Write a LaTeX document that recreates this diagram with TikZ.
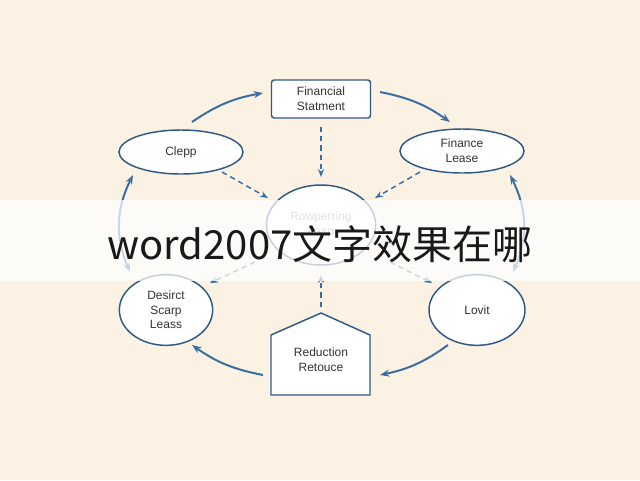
\documentclass[tikz,border=0pt]{standalone}
\usepackage{fontspec}
\setmainfont{Liberation Sans}
\newfontfamily\cjk{Noto Sans CJK SC}
\usetikzlibrary{shapes.geometric,arrows.meta}
\definecolor{bg}{HTML}{FBF2E4}
\definecolor{ln}{HTML}{2E5A86}
\definecolor{ar}{HTML}{3A6EA5}
\begin{document}
\begin{tikzpicture}[x=0.75pt,y=-0.75pt,
  shp/.style={draw=ln,line width=1.1pt,fill=white,align=center,font=\small,text=black!80,inner sep=0pt},
  sol/.style={-{Stealth[length=7pt]},ar,line width=1.5pt},
  dsh/.style={-{Stealth[length=6pt]},ar,line width=1.1pt,dash pattern=on 4pt off 3pt}]
\useasboundingbox (0,0) rectangle (640,480);
\fill[bg] (0,0) rectangle (640,480);
\node[shp,rectangle,rounded corners=2pt,minimum width=99pt*0.75,minimum height=38pt*0.75] (fs) at (321,99) {Financial\\Statment};
\node[shp,ellipse,minimum width=93,minimum height=33] (cl) at (181,152) {Clepp};
\node[shp,ellipse,minimum width=93,minimum height=33] (fl) at (462,151) {Finance\\Lease};
\node[shp,ellipse,minimum width=82,minimum height=60,text=black!40] (ce) at (321,225) {Rowperring\\Lasp};
\node[shp,ellipse,minimum width=70,minimum height=53] (de) at (166,310) {Desirct\\Scarp\\Leass};
\node[shp,ellipse,minimum width=72,minimum height=53] (lo) at (477,310) {Lovit};
\draw[shp] (271,395) -- (271,335) -- (321,313) -- (370,335) -- (370,395) -- cycle;
\node[align=center,font=\small,text=black!80] (rd) at (321,360) {Reduction\\Retouce};
\coordinate (rdt) at (321,307);
\draw[sol] (192,122) to[bend left=12] (263,93);
\draw[sol] (380,92) to[bend left=12] (450,122);
\draw[sol] (448,345) to[bend left=12] (380,375);
\draw[sol] (263,375) to[bend left=12] (192,345);
\draw[sol,{Stealth[length=7pt]}-{Stealth[length=7pt]}] (133,175) to[bend right=25] (130,272);
\draw[sol,{Stealth[length=7pt]}-{Stealth[length=7pt]}] (510,175) to[bend left=25] (513,272);
\draw[dsh] (fs.south) ++(0,8) -- (321,177);
\draw[dsh] (222,172) -- (268,198);
\draw[dsh] (420,172) -- (375,198);
\draw[dsh] (255,262) -- (210,283);
\draw[dsh] (390,262) -- (432,283);
\draw[dsh] (321,307) -- (321,275);
\fill[white,opacity=0.72] (0,200) rectangle (640,281);
\node[font=\cjk\fontsize{30}{34}\selectfont,text=black!90] (tt) at (320,244) {word2007文字效果在哪};
\end{tikzpicture}
\end{document}
